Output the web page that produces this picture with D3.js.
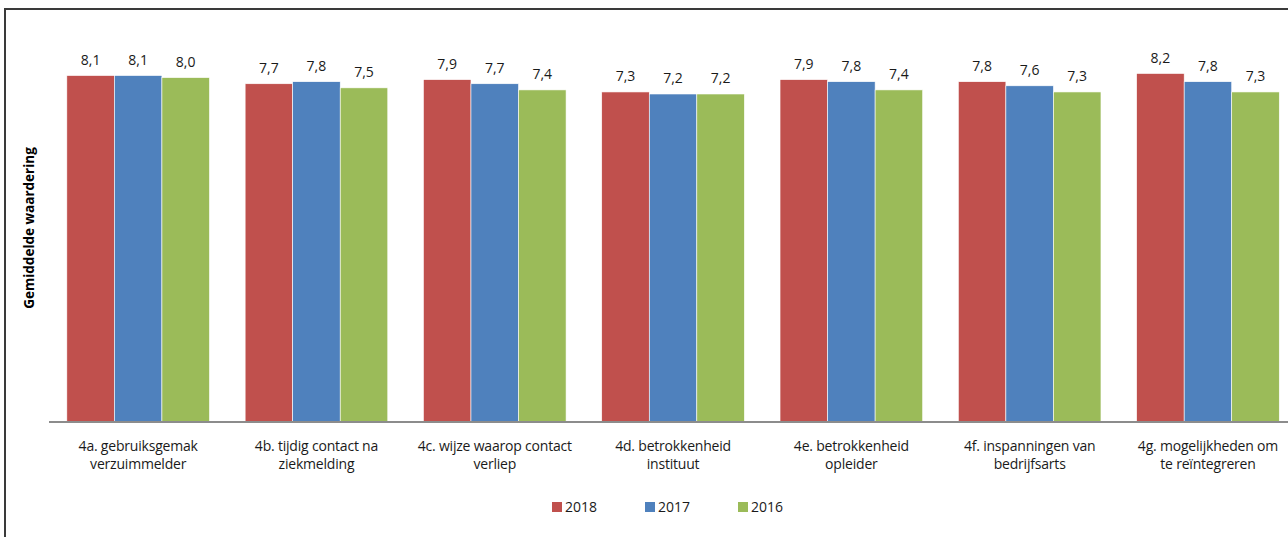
<!DOCTYPE html>
<html>
<head>
<meta charset="utf-8">
<script src="https://cdn.jsdelivr.net/npm/d3@7"></script>
<style>
  html, body { margin: 0; padding: 0; background: #fff; }
  svg { display: block; }
</style>
</head>
<body>
<svg id="chart" width="1288" height="537"></svg>
<script>
const categories = [
  ["4a. gebruiksgemak", "verzuimmelder"],
  ["4b. tijdig contact na", "ziekmelding"],
  ["4c. wijze waarop contact", "verliep"],
  ["4d. betrokkenheid", "instituut"],
  ["4e. betrokkenheid", "opleider"],
  ["4f. inspanningen van", "bedrijfsarts"],
  ["4g. mogelijkheden om", "te reïntegreren"]
];
const seriesNames = ["2018", "2017", "2016"];
const values2018 = [8.1, 7.7, 7.9, 7.3, 7.9, 7.8, 8.2];
const values2017 = [8.1, 7.8, 7.7, 7.2, 7.8, 7.6, 7.8];
const values2016 = [8.0, 7.5, 7.4, 7.2, 7.4, 7.3, 7.3];
const colors = ["#C0504D", "#4F81BD", "#9BBB59"];
const yTitle = "Gemiddelde waardering";

const allSeries = [values2018, values2017, values2016];
const svg = d3.select("#chart");
const font = "'Open Sans', 'Noto Sans', sans-serif";

// frame
svg.append("rect").attr("x", 5).attr("y", 9).attr("width", 1400).attr("height", 700)
  .attr("fill", "none").attr("stroke", "#3a3a3a").attr("stroke-width", 2);

const baseline = 422;
const x0 = d3.scaleBand().domain(d3.range(categories.length))
  .range([49, 49 + 7 * 178.3]).paddingInner(0.2).paddingOuter(0.1);
const x1 = d3.scaleBand().domain(d3.range(seriesNames.length)).range([0, x0.bandwidth()]);
const y = d3.scaleLinear().domain([-8.8, 11.2]).range([baseline, 12]);

const fmt = v => d3.format(".1f")(v).replace(".", ",");

const groups = svg.append("g").selectAll("g").data(categories).join("g")
  .attr("transform", (d, i) => `translate(${x0(i)},0)`);

groups.each(function(cat, i) {
  const g = d3.select(this);
  allSeries.forEach((vals, s) => {
    const v = vals[i];
    g.append("rect")
      .attr("x", x1(s)).attr("width", x1.bandwidth())
      .attr("y", y(v)).attr("height", baseline - y(v))
      .attr("fill", colors[s])
      .attr("stroke", "#fff").attr("stroke-width", 0.6);
    g.append("text")
      .attr("x", x1(s) + x1.bandwidth() / 2).attr("y", y(v) - 11)
      .attr("text-anchor", "middle")
      .attr("font-family", font).attr("font-size", 14).attr("fill", "#1a1a1a")
      .text(fmt(v));
  });
});

// x axis
const xAxis = d3.axisBottom(x0).tickSize(0).tickFormat("");
const ax = svg.append("g").attr("transform", `translate(0,${baseline})`).call(xAxis);
ax.select(".domain").attr("stroke", "#8c8c8c").attr("stroke-width", 2)
  .attr("d", `M49,0H1300`);

// category labels
const catLabels = svg.append("g").selectAll("text").data(categories).join("text")
  .attr("text-anchor", "middle")
  .attr("font-family", font).attr("font-size", 14).attr("letter-spacing", -0.2)
  .attr("fill", "#1a1a1a")
  .attr("transform", (d, i) => `translate(${x0(i) + x0.bandwidth() / 2},451)`);
catLabels.selectAll("tspan").data(d => d).join("tspan")
  .attr("x", 0).attr("dy", (d, j) => j === 0 ? 0 : 18).text(d => d);

// y title
svg.append("text")
  .attr("transform", "translate(34,228) rotate(-90)")
  .attr("text-anchor", "middle")
  .attr("font-family", font).attr("font-size", 13.5).attr("font-weight", "bold")
  .attr("fill", "#000").text(yTitle);

// legend
const legend = svg.append("g").selectAll("g").data(seriesNames).join("g")
  .attr("transform", (d, i) => `translate(${552 + i * 93},502)`);
legend.append("rect").attr("width", 10).attr("height", 10).attr("fill", (d, i) => colors[i]);
legend.append("text").attr("x", 13).attr("y", 10)
  .attr("font-family", font).attr("font-size", 14).attr("fill", "#1a1a1a")
  .text(d => d);
</script>
</body>
</html>
